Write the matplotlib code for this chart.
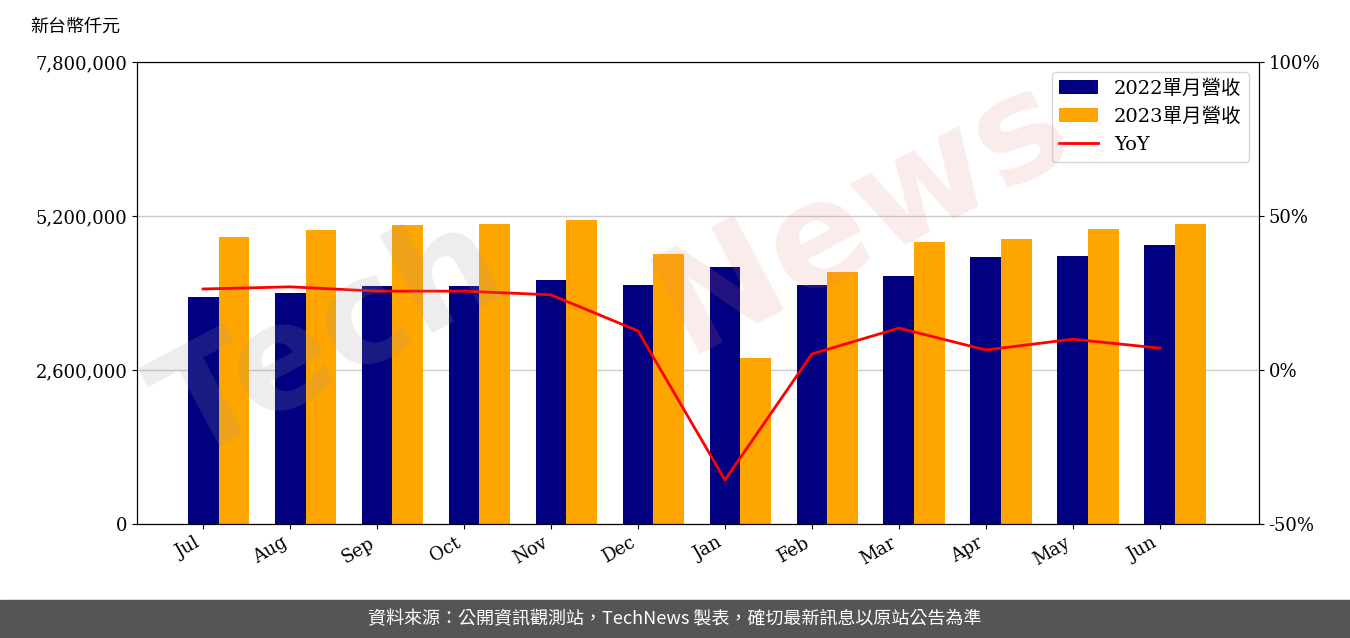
import matplotlib
matplotlib.use("Agg")
import matplotlib.pyplot as plt
import numpy as np

months = ["Jul","Aug","Sep","Oct","Nov","Dec","Jan","Feb","Mar","Apr","May","Jun"]
rev2022 = [3830000,3900000,4020000,4020000,4120000,4030000,4340000,4030000,4190000,4510000,4520000,4710000]
rev2023 = [4850000,4960000,5050000,5060000,5130000,4560000,2800000,4250000,4760000,4810000,4980000,5060000]
yoy = [26.3,27.0,25.6,25.6,24.4,12.7,-35.7,5.2,13.6,6.5,10.0,7.1]

fam = ['DejaVu Serif','Noto Sans CJK TC']
plt.rcParams['font.family'] = fam

fig = plt.figure(figsize=(13.5,6.38), dpi=100)
ax = fig.add_axes([137/1350, 1-524/638, (1259-137)/1350, 462/638])
x = np.arange(len(months))
w = 0.355
b1 = ax.bar(x, rev2022, w, color='#000080', label='2022單月營收')
b2 = ax.bar(x+w, rev2023, w, color='#FFA500', label='2023單月營收')
ax.set_ylim(0,7800000)
ax.set_yticks([0,2600000,5200000,7800000])
ax.set_yticklabels(['0','2,600,000','5,200,000','7,800,000'], fontsize=13)
ax.set_xlim(-0.76, 12.14)
ax.set_xticks(x)
ax.set_xticklabels(months, rotation=30, ha='right', fontsize=13)
ax.grid(axis='y', color='#cccccc', lw=1)
ax.set_axisbelow(True)
ax2 = ax.twinx()
l, = ax2.plot(x, yoy, color='red', lw=2, label='YoY')
ax2.set_ylim(-50,100)
ax2.set_yticks([-50,0,50,100])
ax2.set_yticklabels(['-50%','0%','50%','100%'], fontsize=13)
ax2.legend([b1,b2,l],['2022單月營收','2023單月營收','YoY'], loc='upper right', prop={'family':fam,'size':14})
fig.text(30/1350, 1-27/638, '新台幣仟元', fontsize=13, va='center', family=['Noto Sans CJK TC'])
# watermark
fig.text(0.1, 0.28, 'Tech', fontsize=105, color='#999999', alpha=0.18, rotation=28, weight='bold', family='DejaVu Sans')
fig.text(0.47, 0.45, 'News', fontsize=105, color='#e88080', alpha=0.15, rotation=28, weight='bold', family='DejaVu Sans')
# footer
fig.patches.append(plt.Rectangle((0,0),1,38/638, transform=fig.transFigure, color='#555555', zorder=-1))
fig.text(0.5, 19/638, '資料來源：公開資訊觀測站，TechNews 製表，確切最新訊息以原站公告為準', color='white', fontsize=13,
         ha='center', va='center', family=['Noto Sans CJK TC'])
fig.savefig('out.png', dpi=100)
